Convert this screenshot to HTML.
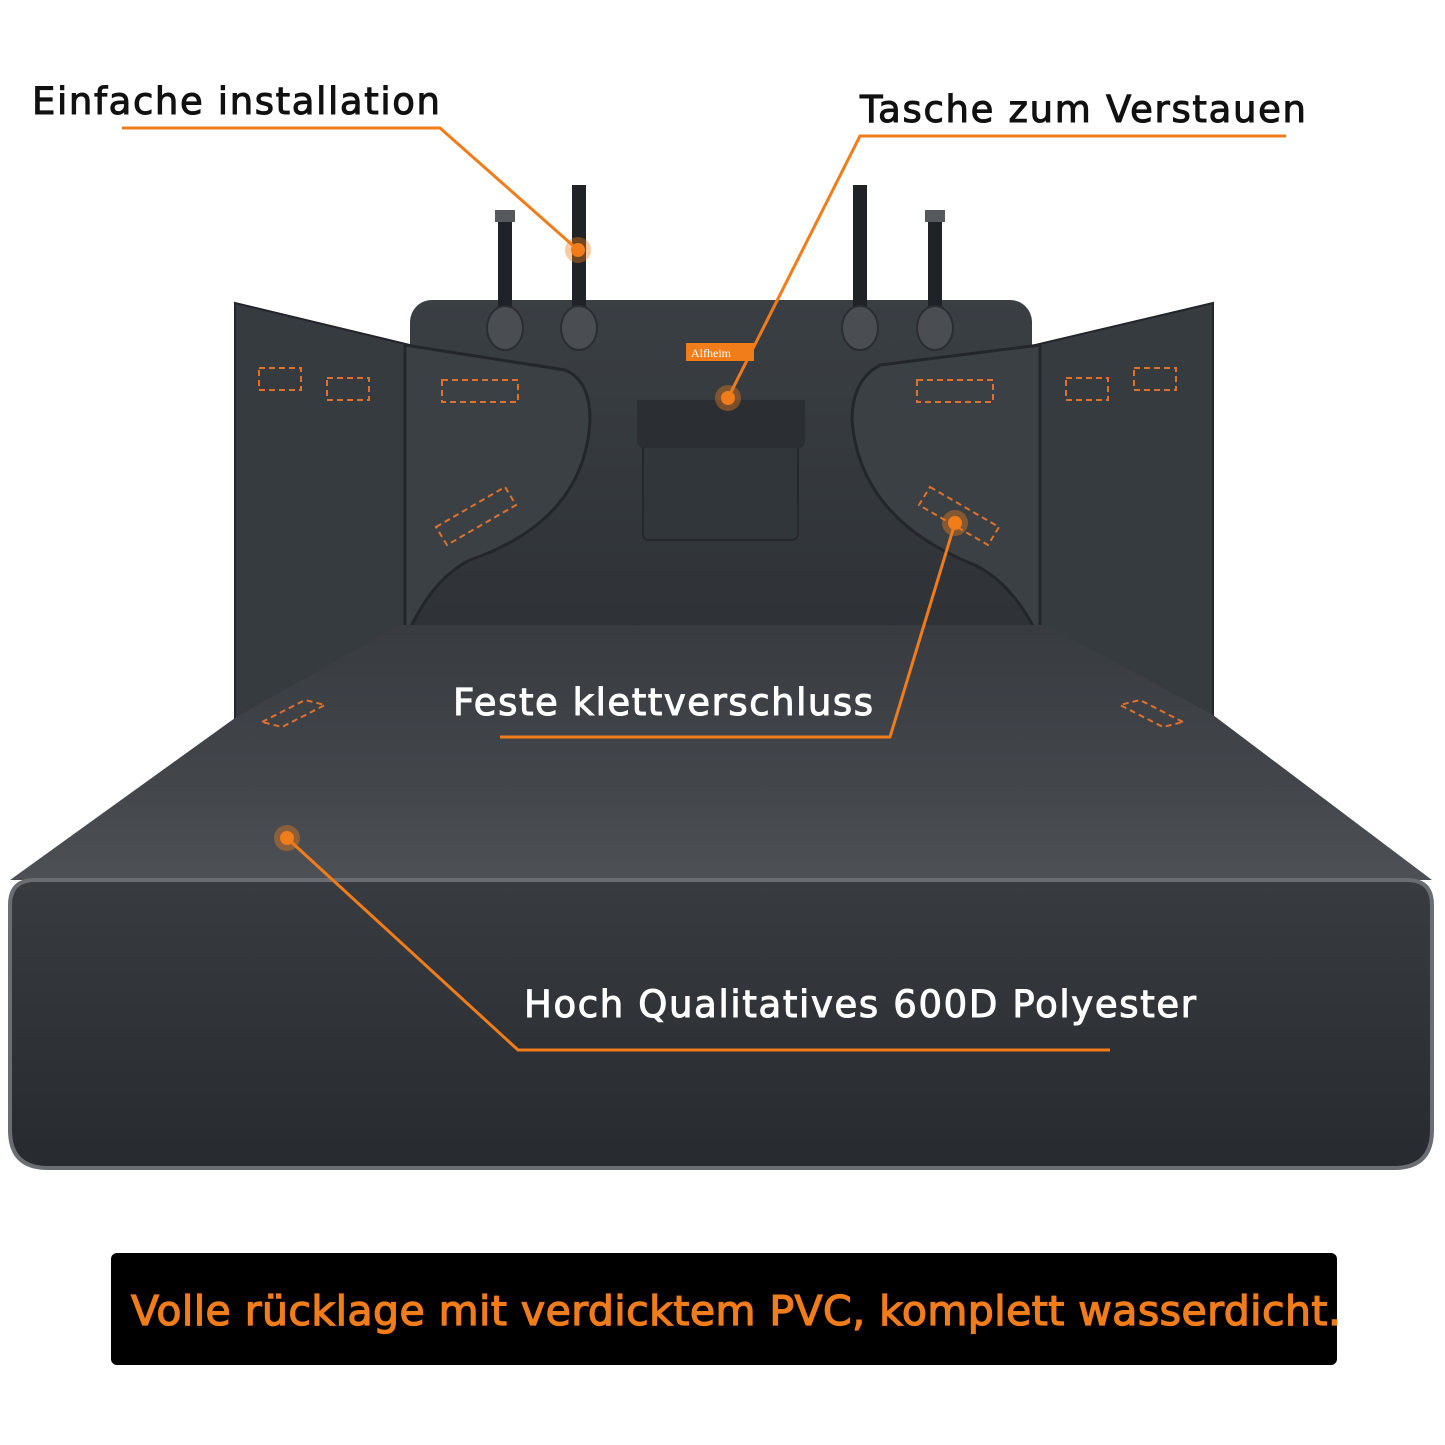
<!DOCTYPE html>
<html><head><meta charset="utf-8"><style>
html,body{margin:0;padding:0;background:#fff}
svg{display:block}
</style></head><body>
<svg width="1445" height="1445" viewBox="0 0 1445 1445" xmlns="http://www.w3.org/2000/svg">
<defs>
<linearGradient id="fl" x1="0" y1="0" x2="0" y2="1">
<stop offset="0" stop-color="#383c41"/><stop offset="0.6" stop-color="#42464b"/><stop offset="1" stop-color="#4d5156"/>
</linearGradient>
<linearGradient id="fr" x1="0" y1="0" x2="0" y2="1">
<stop offset="0" stop-color="#383c41"/><stop offset="1" stop-color="#272b2f"/>
</linearGradient>
<linearGradient id="bk" x1="0" y1="0" x2="0" y2="1">
<stop offset="0" stop-color="#3a3f44"/><stop offset="1" stop-color="#2e3236"/>
</linearGradient>
</defs>
<rect width="1445" height="1445" fill="#fff"/>
<rect x="410" y="300" width="622" height="340" rx="22" fill="url(#bk)"/>
<path d="M235 303 L410 345 L410 640 L320 690 L235 722 Z" fill="#363b40" stroke="#22262a" stroke-width="2"/>
<path d="M1213 303 L1035 345 L1035 640 L1125 690 L1213 722 Z" fill="#363b40" stroke="#22262a" stroke-width="2"/>
<path d="M405 345 L565 370 Q590 380 590 420 Q585 520 470 560 Q430 580 405 640 Z" fill="#3b4045" stroke="#23272b" stroke-width="3"/>
<path d="M1040 345 L880 365 Q852 380 852 420 Q860 520 975 565 Q1015 585 1040 640 Z" fill="#3b4045" stroke="#23272b" stroke-width="3"/>
<path d="M400 625 L1045 625 L1213 715 L1432 880 L10 880 L235 718 Z" fill="url(#fl)"/>
<path d="M10 905 Q10 880 35 880 L1407 880 Q1432 880 1432 905 L1432 1130 Q1432 1168 1394 1168 L48 1168 Q10 1168 10 1130 Z" fill="url(#fr)" stroke="#6a6e72" stroke-width="4"/>
<rect x="643" y="410" width="155" height="130" rx="6" fill="#31363a" stroke="#25292d" stroke-width="2"/>
<path d="M637 400 L805 400 L805 440 Q805 448 797 448 L645 448 Q637 448 637 440 Z" fill="#2b2f33"/>
<rect x="686" y="343" width="68" height="18" fill="#f07c1a"/>
<text x="691" y="357" font-family="Liberation Serif,serif" font-size="12" fill="#fff">Alfheim</text>
<g fill="#1f2226">
<rect x="498" y="215" width="14" height="100"/><rect x="572" y="185" width="14" height="130"/>
<rect x="853" y="185" width="14" height="130"/><rect x="928" y="215" width="14" height="100"/>
<rect x="495" y="210" width="20" height="12" fill="#55595e"/><rect x="925" y="210" width="20" height="12" fill="#55595e"/>
</g>
<g fill="#4a4e53" stroke="#2a2d31" stroke-width="2">
<ellipse cx="505" cy="328" rx="18" ry="22"/><ellipse cx="579" cy="328" rx="18" ry="22"/>
<ellipse cx="860" cy="328" rx="18" ry="22"/><ellipse cx="935" cy="328" rx="18" ry="22"/>
</g>
<g fill="none" stroke="#e0702a" stroke-width="2" stroke-dasharray="6 4">
<rect x="259" y="368" width="42" height="22"/><rect x="327" y="378" width="42" height="22"/>
<rect x="442" y="380" width="76" height="22"/>
<rect x="917" y="380" width="76" height="22"/>
<rect x="1066" y="378" width="42" height="22"/><rect x="1134" y="368" width="42" height="22"/>
<path d="M436 527 L505 487 L516 505 L447 545 Z"/>
<path d="M930 487 L999 527 L988 545 L919 505 Z"/>
<path d="M262 722 L305 700 L325 705 L282 727 Z"/>
<path d="M1183 722 L1140 700 L1120 705 L1163 727 Z"/>
</g>
<g fill="none" stroke="#f07c1a" stroke-width="3">
<polyline points="122,128 440,128 578,250"/>
<polyline points="1286,136 860,136 728,398"/>
<polyline points="500,737 890,737 955,523"/>
<polyline points="1110,1050 518,1050 287,838"/>
</g>
<g fill="#f07c1a">
<circle cx="578" cy="250" r="13" opacity="0.4"/><circle cx="578" cy="250" r="7"/>
<circle cx="728" cy="398" r="13" opacity="0.4"/><circle cx="728" cy="398" r="7"/>
<circle cx="955" cy="523" r="13" opacity="0.4"/><circle cx="955" cy="523" r="7"/>
<circle cx="287" cy="838" r="13" opacity="0.4"/><circle cx="287" cy="838" r="7"/>
</g>
<g font-family="DejaVu Sans,Liberation Sans,sans-serif" font-size="37" stroke-width="1">
<text x="32" y="114" fill="#111" stroke="#111" textLength="408">Einfache installation</text>
<text x="860" y="122" fill="#111" stroke="#111" textLength="446">Tasche zum Verstauen</text>
<text x="453" y="715" fill="#fff" stroke="#fff" textLength="420">Feste klettverschluss</text>
<text x="524" y="1017" fill="#fff" stroke="#fff" textLength="672">Hoch Qualitatives 600D Polyester</text>
</g>
<rect x="111" y="1253" width="1226" height="112" rx="6" fill="#000"/>
<text x="131" y="1325" font-family="DejaVu Sans,Liberation Sans,sans-serif" font-size="41" fill="#f07c1a" stroke="#f07c1a" stroke-width="1.3" textLength="1210">Volle rücklage mit verdicktem PVC, komplett wasserdicht.</text>
</svg>
</body></html>
